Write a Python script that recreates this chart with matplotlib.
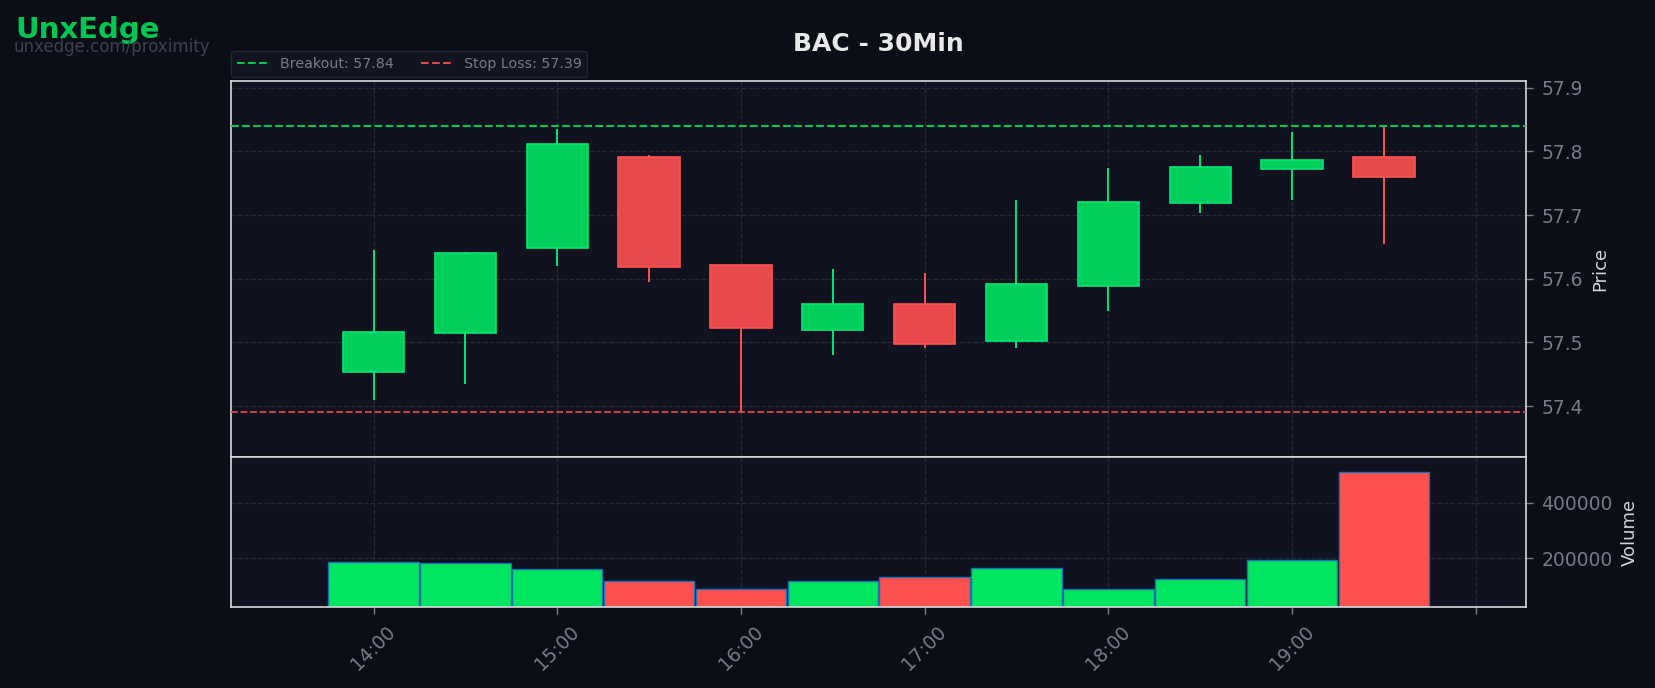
import datetime as dt

import matplotlib
matplotlib.use("Agg")
import matplotlib.pyplot as plt
import matplotlib.dates as mdates
from matplotlib.lines import Line2D

# 30-minute bars, BAC
times = ["14:00", "14:30", "15:00", "15:30", "16:00", "16:30",
         "17:00", "17:30", "18:00", "18:30", "19:00", "19:30"]
opens  = [57.453, 57.514, 57.649, 57.791, 57.621, 57.519, 57.560, 57.503, 57.589, 57.719, 57.773, 57.791]
highs  = [57.645, 57.642, 57.835, 57.795, 57.622, 57.615, 57.609, 57.724, 57.774, 57.795, 57.831, 57.840]
lows   = [57.409, 57.434, 57.620, 57.595, 57.389, 57.480, 57.491, 57.491, 57.550, 57.704, 57.724, 57.655]
closes = [57.516, 57.641, 57.811, 57.619, 57.523, 57.560, 57.498, 57.592, 57.721, 57.776, 57.786, 57.759]
volumes = [185700, 182100, 160700, 117900, 89300, 117900, 132100, 164300, 89300, 125000, 192900, 510700]

breakout = 57.84
stop_loss = 57.39
tick_hours = ["14:00", "15:00", "16:00", "17:00", "18:00", "19:00", "20:00"]
tick_labels = ["14:00", "15:00", "16:00", "17:00", "18:00", "19:00", ""]

BG = "#0b0e17"
PANEL = "#10131f"
GREEN_BODY = "#00d05a"
GREEN_EDGE = "#00e676"
RED_BODY = "#e84a4c"
RED_EDGE = "#ff5252"
TXT = "#787b86"
SPINE = "#d8d8d8"
GRID = "#262a36"

day = dt.date(2024, 1, 2)


def to_num(hhmm):
    h, m = map(int, hhmm.split(":"))
    return mdates.date2num(dt.datetime.combine(day, dt.time(h, m)))


x = [to_num(t) for t in times]

fig = plt.figure(figsize=(16.55, 6.88), dpi=100, facecolor=BG)
ax = fig.add_axes([0.1397, 0.3357, 0.7825, 0.5461])
axv = fig.add_axes([0.1397, 0.1179, 0.7825, 0.2178], sharex=ax)

for a in (ax, axv):
    a.set_facecolor(PANEL)
    for s in a.spines.values():
        s.set_color(SPINE)
        s.set_linewidth(1.2)
    a.yaxis.tick_right()
    a.yaxis.set_label_position("right")
    a.tick_params(colors=TXT, labelsize=13.5, length=5, width=1, pad=6)
    a.grid(True, linestyle="--", color=GRID, linewidth=0.9)
    a.set_axisbelow(True)

# candles
body_w = 0.0139
for xi, o, h, l, c in zip(x, opens, highs, lows, closes):
    up = c >= o
    body = GREEN_BODY if up else RED_BODY
    edge = GREEN_EDGE if up else RED_EDGE
    ax.vlines(xi, l, h, color=edge, linewidth=1.4, zorder=2)
    ax.bar(xi, abs(c - o), bottom=min(o, c), width=body_w, color=body,
           edgecolor=edge, linewidth=1.2, zorder=3)

ax.axhline(breakout, color="#00c853", linestyle="--", linewidth=1.5, zorder=4)
ax.axhline(stop_loss, color="#e04848", linestyle="--", linewidth=1.3, zorder=4)

ax.set_ylim(57.32, 57.91)
ax.set_ylabel("Price", color="#d1d4dc", fontsize=13, labelpad=6)
ax.tick_params(axis="x", labelbottom=False, length=0)
ax.set_title("BAC - 30Min", color="#e8e8e8", fontsize=18, fontweight="bold", pad=22)

handles = [
    Line2D([], [], color="#00c853", linestyle="--", linewidth=1.5),
    Line2D([], [], color="#e04848", linestyle="--", linewidth=1.5),
]
leg = ax.legend(handles, [f"Breakout: {breakout:.2f}", f"Stop Loss: {stop_loss:.2f}"],
                loc="lower left", bbox_to_anchor=(0, 1.012), ncol=2, fontsize=10.3,
                frameon=True, facecolor="#131722", edgecolor="#2a2e39",
                borderaxespad=0, columnspacing=1.9, handlelength=2.2)
for t in leg.get_texts():
    t.set_color(TXT)

# volume
vcolors = ["#00e660" if c >= o else "#ff5050" for o, c in zip(opens, closes)]
axv.bar(x, volumes, width=0.0205, color=vcolors, edgecolor="#1f6fb4", linewidth=1.0)
axv.set_ylim(25000, 565000)
axv.set_yticks([200000, 400000])
axv.set_yticklabels(["200000", "400000"])
axv.set_ylabel("Volume", color="#d1d4dc", fontsize=13, labelpad=6)

axv.set_xlim(x[0] - 0.775 / 24, x[-1] + 0.775 / 24)
axv.set_xticks([to_num(t) for t in tick_hours])
axv.set_xticklabels(tick_labels, rotation=45)
for lbl in axv.get_xticklabels():
    lbl.set_horizontalalignment("center")

fig.text(0.0095, 0.957, "UnxEdge", color="#00c853", fontsize=21, fontweight="bold",
         ha="left", va="center")
fig.text(0.0085, 0.932, "unxedge.com/proximity", color="#3d4250", fontsize=12,
         ha="left", va="center")

fig.savefig("out.png", dpi=100, facecolor=BG)
